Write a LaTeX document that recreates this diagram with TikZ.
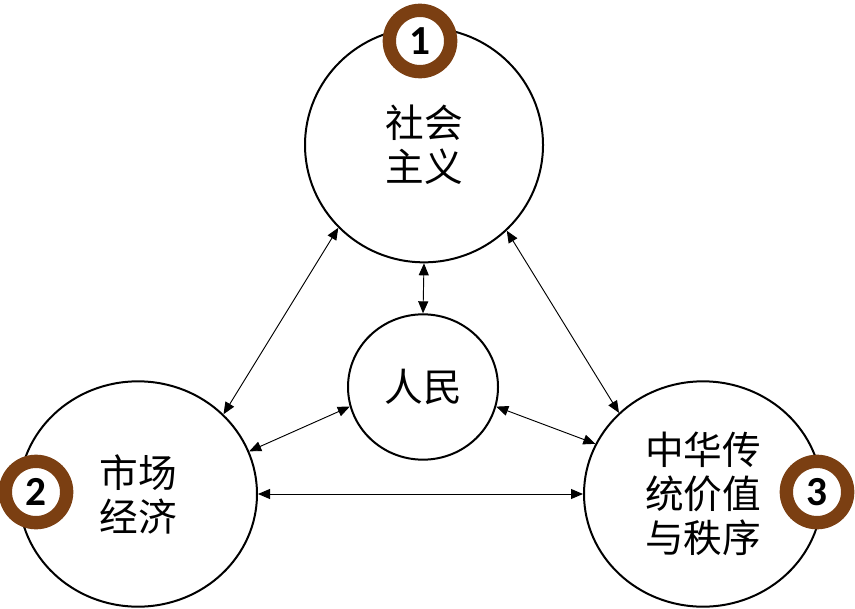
\documentclass[tikz,border=0pt]{standalone}
\usepackage{fontspec}
\newfontfamily\cjk{Noto Sans CJK SC}
\newfontfamily\badgefont{Carlito}
\usetikzlibrary{arrows.meta,shapes.geometric}
\definecolor{ringbrown}{HTML}{7B3F12}

\begin{document}
\begin{tikzpicture}[
    x=0.75pt, y=-0.75pt,
    >=Triangle,
    bubble/.style={ellipse, draw=black, line width=1.5pt, fill=white, inner sep=0pt, align=center, font=\cjk\fontsize{29}{33}\selectfont},
    badge/.style={circle, draw=ringbrown, line width=10pt, fill=white, minimum size=46pt, inner sep=0pt, font=\badgefont\bfseries\fontsize{31}{31}\selectfont},
    link/.style={black, line width=0.7pt, {Triangle[length=9pt,width=7.5pt]}-{Triangle[length=9pt,width=7.5pt]}}
]
\useasboundingbox (0,0) rectangle (855,609);

% -------- the four ideas --------
\node[bubble, minimum width=178.5pt, minimum height=176pt] (social) at (424,145) {社会\\主义};
\node[bubble, minimum width=178.5pt, minimum height=169pt] (market) at (138,494) {市场\\经济};
\node[bubble, minimum width=178.5pt, minimum height=169pt] (order) at (703,494) {中华传\\统价值\\与秩序};
\node[bubble, minimum width=112.5pt, minimum height=109pt] (people) at (423,387) {人民};

% -------- numbered rings --------
\node[badge] (one) at (420,41) {1};
\node[badge] (two) at (36,492) {2};
\node[badge] (three) at (817,492) {3};

% -------- two-way links --------
\draw[link] (social.224) -- (market.43.6);
\draw[link] (social.314.3) -- (order.136.7);
\draw[link] (social.south) -- (people.north);
\draw[link] (people.195.4) -- (market.21);
\draw[link] (people.345.4) -- (order.155.3);
\draw[link] (market.east) -- (order.west);

\end{tikzpicture}
\end{document}
